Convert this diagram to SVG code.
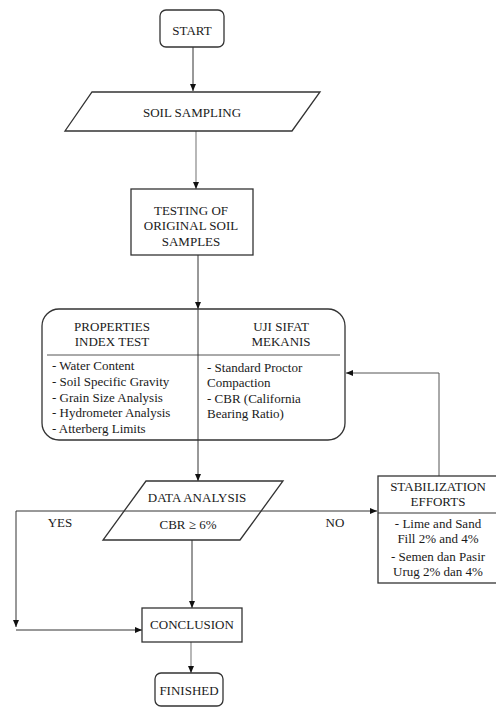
<svg xmlns="http://www.w3.org/2000/svg" width="496" height="707" viewBox="0 0 496 707">
<defs>
<marker id="ah" markerWidth="8" markerHeight="8" refX="7" refY="4" orient="auto" markerUnits="userSpaceOnUse">
<path d="M0,1 L7,4 L0,7 Z" fill="#111"/>
</marker>
<style>
text{font-family:"Liberation Serif","Times New Roman",serif;font-size:13px;fill:#1a1a1a}
.c{text-anchor:middle}
.box{fill:#fff;stroke:#333;stroke-width:1.3}
.ln{fill:none;stroke:#333;stroke-width:1}
.lg{fill:none;stroke:#888;stroke-width:1.2}
.dv{fill:none;stroke:#555;stroke-width:1}
</style>
</defs>
<rect width="496" height="707" fill="#fff"/>

<g id="connectors">
<line class="ln" x1="193" y1="47" x2="193" y2="91" marker-end="url(#ah)"/>
<line class="lg" x1="196" y1="131" x2="196" y2="189" marker-end="url(#ah)"/>
<line class="ln" x1="198" y1="255" x2="198" y2="309" marker-end="url(#ah)"/>
<line class="ln" x1="198" y1="440" x2="198" y2="481" marker-end="url(#ah)"/>
<polyline class="dv" points="439,476 439,373 346,373" marker-end="url(#ah)"/>
<line class="ln" x1="16" y1="511" x2="377" y2="511" marker-end="url(#ah)"/>
<line class="ln" x1="16" y1="511" x2="16" y2="627" marker-end="url(#ah)"/>
<line class="ln" x1="16" y1="630" x2="142" y2="630" marker-end="url(#ah)"/>
<line class="ln" x1="192" y1="540" x2="192" y2="608" marker-end="url(#ah)"/>
<line class="lg" x1="191" y1="642" x2="191" y2="673" marker-end="url(#ah)"/>
</g>

<g id="start">
<rect class="box" x="160" y="10" width="64" height="37" rx="6"/>
<text class="c" x="192" y="34.5">START</text>
</g>

<g id="soil-sampling">
<polygon class="box" points="92,92 320,92 292,131 65,131"/>
<text class="c" x="192" y="116.5">SOIL SAMPLING</text>
</g>

<g id="testing">
<rect class="box" x="131" y="189" width="122" height="66"/>
<text class="c" x="191" y="215">TESTING OF</text>
<text class="c" x="191" y="230">ORIGINAL SOIL</text>
<text class="c" x="191" y="245.5">SAMPLES</text>
</g>

<g id="tests">
<rect class="box" x="42" y="309" width="303" height="131" rx="17"/>
<line class="dv" x1="47" y1="355" x2="340" y2="355"/>
<line class="ln" x1="198" y1="309" x2="198" y2="440"/>
<text class="c" x="112" y="330.5">PROPERTIES</text>
<text class="c" x="112" y="345.5">INDEX TEST</text>
<text class="c" x="281" y="330.5">UJI SIFAT</text>
<text class="c" x="281" y="345.5">MEKANIS</text>
<text x="52" y="369.5">- Water Content</text>
<text x="52" y="385.5">- Soil Specific Gravity</text>
<text x="52" y="401.5">- Grain Size Analysis</text>
<text x="52" y="416.5">- Hydrometer Analysis</text>
<text x="52" y="432.5">- Atterberg Limits</text>
<text x="207" y="371.5">- Standard Proctor</text>
<text x="207" y="386.5">Compaction</text>
<text x="207" y="402.5">- CBR (California</text>
<text x="207" y="417.5">Bearing Ratio)</text>
</g>

<g id="data-analysis">
<polygon class="box" points="146,481 283,481 240,540 103,540" style="fill:none"/>
<text class="c" x="197" y="501.5">DATA ANALYSIS</text>
<text class="c" x="188" y="528.5">CBR ≥ 6%</text>
</g>

<g id="labels">
<text class="c" x="60" y="526.5">YES</text>
<text class="c" x="335" y="526.5">NO</text>
</g>

<g id="stabilization">
<rect class="box" x="378" y="476" width="120" height="107"/>
<line class="ln" x1="378" y1="513" x2="496" y2="513"/>
<text class="c" x="438" y="490.5">STABILIZATION</text>
<text class="c" x="438" y="505.5">EFFORTS</text>
<text class="c" x="438" y="527.5">- Lime and Sand</text>
<text class="c" x="438" y="542.5">Fill 2% and 4%</text>
<text class="c" x="438" y="560.5">- Semen dan Pasir</text>
<text class="c" x="438" y="575.5">Urug 2% dan 4%</text>
</g>

<g id="conclusion">
<rect class="box" x="142" y="608" width="100" height="34"/>
<text class="c" x="192" y="628.5">CONCLUSION</text>
</g>

<g id="finished">
<rect class="box" x="155" y="673" width="68" height="33" rx="6"/>
<text class="c" x="189" y="694.5">FINISHED</text>
</g>
</svg>
